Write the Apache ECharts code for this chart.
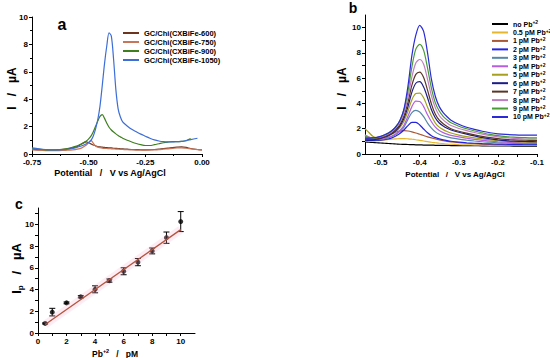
<!DOCTYPE html>
<html><head><meta charset="utf-8">
<script src="https://cdn.jsdelivr.net/npm/echarts@6/dist/echarts.min.js"></script>
<style>html,body{margin:0;padding:0;background:#fff}#c{width:550px;height:358px}</style>
</head><body><div id="c"></div>
<script>
// ---------- Panel a ----------
const potentialA = [-0.75,-0.72,-0.69,-0.66,-0.63,-0.60,-0.57,-0.55,-0.53,-0.51,
  -0.50,-0.49,-0.48,-0.47,-0.46,-0.45,-0.44,-0.43,-0.42,-0.41,-0.40,-0.39,-0.38,-0.37,-0.36,-0.35,
  -0.33,-0.31,-0.29,-0.27,-0.25,-0.23,-0.21,-0.19,-0.17,-0.15,-0.13,-0.11,-0.09,-0.07,-0.05,
  -0.02,0.00];
const namesA = ['GC/Chi(CXBiFe-600)','GC/Chi(CXBiFe-750)','GC/Chi(CXBiFe-900)','GC/Chi(CXBiFe-1050)'];
const currentA600 = [0.35,0.30,0.28,0.28,0.30,0.35,0.45,0.55,0.75,0.88,
  0.82,0.74,0.66,0.60,0.55,0.52,0.50,0.48,0.46,0.45,0.44,0.42,0.41,0.40,0.38,0.37,
  0.35,0.33,0.32,0.31,0.30,0.31,0.33,0.36,0.40,0.43,0.47,0.50,0.52,0.48,0.40,
  0.33,0.30];
const currentA750 = [0.30,0.27,0.25,0.24,0.25,0.27,0.30,0.35,0.45,0.65,
  0.82,1.00,0.80,0.58,0.50,0.46,0.43,0.41,0.40,0.39,0.38,0.37,0.36,0.35,0.34,0.33,
  0.31,0.30,0.29,0.28,0.28,0.29,0.30,0.32,0.35,0.38,0.41,0.44,0.45,0.42,0.38,
  0.32,0.30];
const currentA900 = [0.40,0.35,0.30,0.30,0.32,0.38,0.50,0.60,0.75,0.95,
  1.10,1.30,1.60,2.00,2.40,2.75,2.88,2.60,2.25,1.95,1.75,1.60,1.47,1.35,1.25,1.15,
  1.00,0.88,0.77,0.68,0.62,0.62,0.68,0.75,0.82,0.87,0.90,0.90,0.92,0.97,1.12,
  null,null];
const currentA1050 = [0.45,0.38,0.33,0.30,0.30,0.33,0.40,0.50,0.60,0.75,
  0.85,1.00,1.30,1.80,2.50,3.50,5.00,6.60,7.90,8.85,8.60,6.90,4.70,3.30,2.70,2.35,
  2.05,1.80,1.62,1.45,1.30,1.15,1.03,0.95,0.90,0.88,0.88,0.90,0.92,0.98,1.05,
  1.15,null];
const colorsA = ['#6b3520','#c8765a','#3f7f1f','#3d6ed8'];

// ---------- Panel b ----------
const potentialB = [-0.54,-0.53,-0.52,-0.51,-0.50,-0.49,-0.48,-0.47,-0.46,-0.45,-0.44,-0.43,
  -0.42,-0.41,-0.40,-0.39,-0.38,-0.37,-0.36,-0.35,-0.34,-0.33,-0.32,
  -0.30,-0.28,-0.26,-0.24,-0.22,-0.20,-0.18,-0.16,-0.14,-0.12,-0.10];
const namesB = ['no Pb+2','0.5 pM Pb+2','1 pM Pb+2','2 pM Pb+2','3 pM Pb+2','4 pM Pb+2',
  '5 pM Pb+2','6 pM Pb+2','7 pM Pb+2','8 pM Pb+2','9 pM Pb+2','10 pM Pb+2'];
const currentB0 = [0.95,0.93,0.91,0.89,0.87,0.85,0.83,0.81,0.79,0.77,0.76,0.75,
  0.74,0.73,0.72,0.71,0.70,0.70,0.69,0.69,0.68,0.68,0.67,
  0.67,0.66,0.66,0.65,0.65,0.64,0.64,0.63,0.63,0.62,0.62];
const currentB05 = [1.00,1.00,1.02,1.05,1.08,1.12,1.15,1.18,1.20,1.22,1.22,1.20,
  1.17,1.13,1.08,1.03,0.98,0.93,0.89,0.85,0.82,0.79,0.77,
  0.74,0.72,0.71,0.70,0.69,0.69,0.68,0.68,0.68,0.68,0.68];
const currentB1 = [1.20,1.15,1.15,1.20,1.28,1.38,1.50,1.63,1.75,1.83,1.85,1.82,
  1.75,1.66,1.56,1.46,1.36,1.27,1.19,1.12,1.06,1.00,0.96,
  0.90,0.85,0.81,0.78,0.76,0.74,0.73,0.72,0.72,0.72,0.72];
const currentB2 = [1.15,1.10,1.08,1.08,1.10,1.14,1.20,1.30,1.45,1.65,1.92,2.25,
  2.50,2.50,2.30,1.98,1.68,1.45,1.30,1.20,1.12,1.06,1.01,
  0.94,0.89,0.85,0.82,0.80,0.78,0.77,0.76,0.76,0.76,0.76];
const currentB3 = [1.30,1.22,1.15,1.14,1.16,1.20,1.28,1.40,1.57,1.80,2.15,2.75,
  3.28,3.45,3.32,2.95,2.45,2.05,1.75,1.56,1.44,1.35,1.28,
  1.18,1.10,1.03,0.97,0.93,0.89,0.86,0.84,0.83,0.82,0.82];
const currentB4 = [1.50,1.35,1.25,1.22,1.22,1.26,1.33,1.45,1.62,1.88,2.30,3.00,
  3.75,4.18,4.15,3.75,3.10,2.55,2.12,1.86,1.69,1.57,1.48,
  1.35,1.25,1.16,1.08,1.02,0.97,0.93,0.90,0.89,0.88,0.88];
const currentB5 = [2.00,1.70,1.40,1.30,1.30,1.35,1.45,1.60,1.80,2.12,2.62,3.40,
  4.30,4.78,4.82,4.45,3.70,3.00,2.45,2.13,1.93,1.78,1.66,
  1.50,1.38,1.28,1.19,1.11,1.05,1.00,0.97,0.95,0.94,0.93];
const currentB6 = [1.05,1.08,1.12,1.17,1.24,1.33,1.45,1.62,1.88,2.25,2.85,3.75,
  4.90,5.60,5.72,5.30,4.45,3.50,2.85,2.45,2.22,2.04,1.90,
  1.72,1.57,1.43,1.30,1.20,1.12,1.06,1.02,1.00,0.98,0.97];
const currentB7 = [1.20,1.18,1.18,1.22,1.28,1.37,1.50,1.70,1.98,2.38,3.05,4.10,
  5.45,6.30,6.48,6.05,5.05,3.95,3.15,2.68,2.40,2.18,2.00,
  1.80,1.65,1.52,1.40,1.30,1.22,1.16,1.12,1.10,1.08,1.07];
const currentB8 = [1.50,1.35,1.28,1.30,1.36,1.45,1.60,1.80,2.10,2.55,3.30,4.50,
  6.10,7.20,7.48,7.10,5.90,4.60,3.65,3.05,2.70,2.45,2.25,
  2.02,1.85,1.70,1.57,1.45,1.36,1.29,1.24,1.20,1.18,1.17];
const currentB9 = [1.40,1.30,1.25,1.30,1.38,1.50,1.66,1.88,2.20,2.70,3.55,5.00,
  6.90,8.30,8.68,8.20,6.80,5.20,4.05,3.40,2.98,2.70,2.47,
  2.20,2.00,1.82,1.68,1.55,1.45,1.38,1.33,1.30,1.28,1.27];
const currentB10 = [1.25,1.25,1.28,1.32,1.40,1.52,1.66,1.88,2.20,2.70,3.60,5.40,
  7.80,9.40,10.18,9.70,8.00,5.90,4.55,3.75,3.28,2.95,2.68,
  2.35,2.12,1.95,1.80,1.68,1.60,1.55,1.52,1.50,1.50,1.50];
const colorsB = ['#000000','#e6b62e','#a85a36','#2424e0','#5588a8','#b45ee0',
  '#a6a01e','#1c1c86','#5a3626','#c07ec0','#4a9a36','#2a2ad6'];

// ---------- Panel c ----------
const concPb = [0.5,1,2,3,4,5,6,7,8,9,10];
const peakCurrent = [0.88,1.92,2.77,3.33,4.02,4.82,5.68,6.52,7.55,8.77,10.25];
const peakErr = [0.05,0.35,0.08,0.10,0.32,0.15,0.32,0.33,0.27,0.52,0.92];
const fitConc = [0.5,10];
const fitCurrent = [0.78,9.51];

// ---------- build ----------
const FONT = 'Liberation Sans, Arial, sans-serif';
function pairs(xs, ys){ const out=[]; xs.forEach((x,i)=>{ if(ys[i]!=null) out.push([x,ys[i]]); }); return out; }
const seriesA = [currentA600,currentA750,currentA900,currentA1050];
const seriesB = [currentB0,currentB05,currentB1,currentB2,currentB3,currentB4,currentB5,currentB6,currentB7,currentB8,currentB9,currentB10];

const axisCommon = {
  axisLine:{onZero:false, lineStyle:{color:'#000',width:1}},
  axisTick:{show:true,length:3,lineStyle:{color:'#000',width:1}},
  splitLine:{show:false},
  axisLabel:{color:'#000',fontSize:8,fontWeight:'bold',fontFamily:FONT,margin:4}
};
function ax(extra){ return Object.assign({}, extra, {
  axisLabel:Object.assign({}, axisCommon.axisLabel, extra.axisLabel||{}),
  axisTick:Object.assign({}, axisCommon.axisTick, extra.axisTick||{}),
  axisLine:axisCommon.axisLine, splitLine:{show:false}
}); }

const series = [];
seriesA.forEach((ys,i)=>series.push({
  name:namesA[i], type:'line', xAxisIndex:0, yAxisIndex:0, data:pairs(potentialA,ys),
  showSymbol:false, smooth:0.3, lineStyle:{width:1.2,color:colorsA[i]}, itemStyle:{color:colorsA[i]}
}));
seriesB.forEach((ys,i)=>series.push({
  name:namesB[i], type:'line', xAxisIndex:1, yAxisIndex:1, data:pairs(potentialB,ys),
  showSymbol:false, smooth:0.3, lineStyle:{width:1.2,color:colorsB[i]}, itemStyle:{color:colorsB[i]}
}));
series.push({
  type:'line', xAxisIndex:2, yAxisIndex:2, data:pairs(fitConc,fitCurrent), showSymbol:false,
  lineStyle:{width:8,color:'rgba(245,170,200,0.22)'}, silent:true
});
series.push({
  type:'line', xAxisIndex:2, yAxisIndex:2, data:pairs(fitConc,fitCurrent), showSymbol:false,
  lineStyle:{width:1.3,color:'#b5533c'}
});
series.push({
  type:'custom', xAxisIndex:2, yAxisIndex:2,
  data:concPb.map((x,i)=>[x, peakCurrent[i]-peakErr[i], peakCurrent[i]+peakErr[i]]),
  renderItem:function(params, api){
    const lo = api.coord([api.value(0), api.value(1)]);
    const hi = api.coord([api.value(0), api.value(2)]);
    const w = 3;
    const st = {stroke:'#000', lineWidth:1};
    return {type:'group', children:[
      {type:'line', shape:{x1:lo[0],y1:lo[1],x2:hi[0],y2:hi[1]}, style:st},
      {type:'line', shape:{x1:lo[0]-w,y1:lo[1],x2:lo[0]+w,y2:lo[1]}, style:st},
      {type:'line', shape:{x1:hi[0]-w,y1:hi[1],x2:hi[0]+w,y2:hi[1]}, style:st}
    ]};
  }
});
series.push({
  type:'scatter', xAxisIndex:2, yAxisIndex:2, data:pairs(concPb,peakCurrent),
  symbol:'circle', symbolSize:5, itemStyle:{color:'#000'}
});

const option = {
  animation:false,
  backgroundColor:'#fff',
  grid:[
    {left:32, top:17, width:170, height:137},
    {left:365, top:15, width:172, height:139},
    {left:38, top:208, width:157, height:125}
  ],
  xAxis:[
    ax({type:'value', gridIndex:0, min:-0.75, max:0, interval:0.25,
        minorTick:{show:true,splitNumber:2,length:2,lineStyle:{color:'#000'}},
        axisLabel:{formatter:v=>v.toFixed(2)}}),
    ax({type:'value', gridIndex:1, min:-0.54, max:-0.1,
        axisLabel:{customValues:[-0.5,-0.4,-0.3,-0.2,-0.1], formatter:v=>v.toFixed(1)},
        axisTick:{customValues:[-0.5,-0.45,-0.4,-0.35,-0.3,-0.25,-0.2,-0.15,-0.1]}}),
    ax({type:'value', gridIndex:2, min:0, max:11,
        axisLabel:{customValues:[0,2,4,6,8,10]},
        axisTick:{customValues:[0,1,2,3,4,5,6,7,8,9,10]}})
  ],
  yAxis:[
    ax({type:'value', gridIndex:0, min:0, max:10, interval:2,
        minorTick:{show:true,splitNumber:2,length:2,lineStyle:{color:'#000'}}}),
    ax({type:'value', gridIndex:1, min:0, max:11,
        axisLabel:{customValues:[0,2,4,6,8,10]},
        axisTick:{customValues:[0,1,2,3,4,5,6,7,8,9,10]}}),
    ax({type:'value', gridIndex:2, min:0, max:11.5,
        axisLabel:{customValues:[0,2,4,6,8,10]},
        axisTick:{customValues:[0,1,2,3,4,5,6,7,8,9,10,11]}})
  ],
  legend:[
    {data:namesA, orient:'vertical', left:123, top:28.5, padding:0, itemGap:0,
     itemWidth:16, itemHeight:2, icon:'rect',
     textStyle:{fontSize:7.5, fontWeight:'bold', fontFamily:FONT, color:'#000', lineHeight:9}},
    {data:namesB, orient:'vertical', left:492, top:19.8, padding:0, itemGap:0,
     itemWidth:16, itemHeight:2, icon:'rect',
     formatter:n=>n.replace('+2','{sup|+2}'),
     textStyle:{fontSize:7, fontWeight:'bold', fontFamily:FONT, color:'#000', lineHeight:8.45,
       rich:{sup:{fontSize:5, fontWeight:'bold', fontFamily:FONT, color:'#000', verticalAlign:'top', lineHeight:8.45}}}}
  ],
  graphic:[
    {type:'text', x:62, y:24.4, style:{text:'a', fontSize:16, fontWeight:'bold', fontFamily:FONT, fill:'#000', align:'center', verticalAlign:'middle'}},
    {type:'text', x:353, y:8.1, style:{text:'b', fontSize:14, fontWeight:'bold', fontFamily:FONT, fill:'#000', align:'center', verticalAlign:'middle'}},
    {type:'text', x:19, y:204, style:{text:'c', fontSize:14, fontWeight:'bold', fontFamily:FONT, fill:'#000', align:'center', verticalAlign:'middle'}},
    {type:'text', x:11.5, y:88.5, rotation:Math.PI/2, style:{text:'I   /   µA', fontSize:12, fontWeight:'bold', fontFamily:FONT, fill:'#000', align:'center', verticalAlign:'middle'}},
    {type:'text', x:341.5, y:88.5, rotation:Math.PI/2, style:{text:'I   /   µA', fontSize:12, fontWeight:'bold', fontFamily:FONT, fill:'#000', align:'center', verticalAlign:'middle'}},
    {type:'text', x:16, y:268.5, rotation:Math.PI/2, style:{text:'{b|I}{s|p}{b|   /   µA}', align:'center', verticalAlign:'middle',
       rich:{b:{fontSize:13, fontWeight:'bold', fontFamily:FONT, fill:'#000', lineHeight:16, verticalAlign:'middle'},
             s:{fontSize:8, fontWeight:'bold', fontFamily:FONT, fill:'#000', lineHeight:16, verticalAlign:'bottom'}}}},
    {type:'text', x:110, y:173, style:{text:'Potential   /   V vs Ag/AgCl', fontSize:9, fontWeight:'bold', fontFamily:FONT, fill:'#000', align:'center', verticalAlign:'middle'}},
    {type:'text', x:455, y:174, style:{text:'Potential   /   V vs Ag/AgCl', fontSize:8, fontWeight:'bold', fontFamily:FONT, fill:'#000', align:'center', verticalAlign:'middle'}},
    {type:'text', x:115, y:353, style:{text:'{b|Pb}{p|+2}{b|   /   pM}', align:'center', verticalAlign:'middle',
       rich:{b:{fontSize:8.5, fontWeight:'bold', fontFamily:FONT, fill:'#000', lineHeight:11, verticalAlign:'bottom'},
             p:{fontSize:5.5, fontWeight:'bold', fontFamily:FONT, fill:'#000', lineHeight:11, verticalAlign:'top'}}}}
  ],
  series:series
};
const chart = echarts.init(document.getElementById('c'), null, {renderer:'svg'});
chart.setOption(option);
</script></body></html>
